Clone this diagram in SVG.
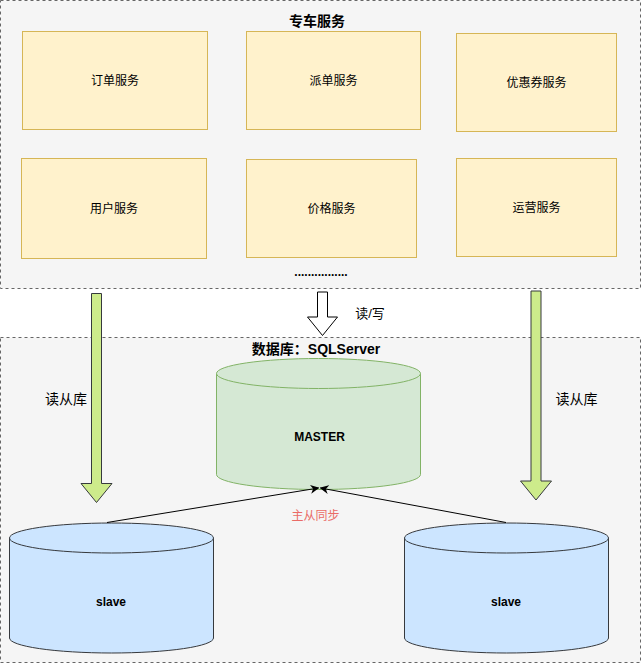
<svg xmlns="http://www.w3.org/2000/svg" width="641" height="664" viewBox="0 0 641 664">
<style>
.cont{fill:#f5f5f5;stroke:#666666;stroke-width:1;stroke-dasharray:3 3}
.svc{fill:#fff2cc;stroke:#d6b656;stroke-width:1}
.t{font-family:"Liberation Sans","Noto Sans CJK SC",sans-serif;font-size:12px;fill:#000;text-anchor:middle;dominant-baseline:central}
.b{font-weight:bold}
.big{font-size:14px}
.mid{font-size:13px}
.garrow{fill:#cdeb8b;stroke:#36393d;stroke-width:1}
.warrow{fill:#ffffff;stroke:#000000;stroke-width:1}
.master{fill:#d5e8d4;stroke:#82b366;stroke-width:1}
.slave{fill:#cce5ff;stroke:#36393d;stroke-width:1}
.conn{fill:none;stroke:#000;stroke-width:1}
</style>
<defs>
<marker id="ah" viewBox="0 0 10 10" refX="9" refY="5" markerWidth="9" markerHeight="9" markerUnits="userSpaceOnUse" orient="auto">
<path d="M0,0 L10,5 L0,10 L3,5 Z" fill="#000"/>
</marker>
</defs>
<rect width="641" height="664" fill="#ffffff"/>
<g id="container-top">
<rect class="cont" x="0.5" y="0.5" width="640" height="288"/>
<text class="t b big" x="317" y="21">专车服务</text>
<text class="t b" x="321" y="272">................</text>
</g>
<g id="container-db">
<rect class="cont" x="0.5" y="337.5" width="640" height="325"/>
<text class="t b big" x="316" y="349">数据库：SQLServer</text>
</g>
<g id="svc-order"><rect class="svc" x="22.5" y="31.5" width="185" height="98"/><text class="t" x="115" y="80.5">订单服务</text></g>
<g id="svc-dispatch"><rect class="svc" x="246.5" y="31.5" width="174" height="98"/><text class="t" x="333.5" y="80.5">派单服务</text></g>
<g id="svc-coupon"><rect class="svc" x="456.5" y="33.5" width="160" height="98"/><text class="t" x="536.5" y="82.5">优惠券服务</text></g>
<g id="svc-user"><rect class="svc" x="21.5" y="158.5" width="185" height="100"/><text class="t" x="114" y="208.5">用户服务</text></g>
<g id="svc-price"><rect class="svc" x="246.5" y="159.5" width="170" height="98"/><text class="t" x="331.5" y="208.5">价格服务</text></g>
<g id="svc-ops"><rect class="svc" x="456.5" y="158.5" width="160" height="98"/><text class="t" x="536.5" y="207.5">运营服务</text></g>
<g id="master">
<path class="master" d="M216.5,373.5 A102,15 0 0 1 420.5,373.5 L420.5,474.5 A102,15 0 0 1 216.5,474.5 Z"/>
<path class="master" d="M216.5,373.5 A102,15 0 0 0 420.5,373.5"/>
<text class="t b" x="319.5" y="436.5">MASTER</text>
</g>
<g id="slave-left">
<path class="slave" d="M9.5,538 A102,15 0 0 1 213.5,538 L213.5,638 A102,15 0 0 1 9.5,638 Z"/>
<path class="slave" d="M9.5,538 A102,15 0 0 0 213.5,538"/>
<text class="t b" x="111" y="602">slave</text>
</g>
<g id="slave-right">
<path class="slave" d="M404.5,538 A102,15 0 0 1 608.5,538 L608.5,638 A102,15 0 0 1 404.5,638 Z"/>
<path class="slave" d="M404.5,538 A102,15 0 0 0 608.5,538"/>
<text class="t b" x="506" y="602">slave</text>
</g>
<g id="connectors">
<polygon class="garrow" points="91.5,293.5 101.5,293.5 101.5,483.5 112,483.5 96.5,502.5 81,483.5 91.5,483.5"/>
<polygon class="garrow" points="531,291 541,291 541,481 551.5,481 536,500 520.5,481 531,481"/>
<polygon class="warrow" points="317.5,292 327.5,292 327.5,317 337.5,317 322.5,335.5 307.5,317 317.5,317"/>
<line class="conn" x1="107" y1="522.5" x2="318.5" y2="488" marker-end="url(#ah)"/>
<line class="conn" x1="506" y1="522.5" x2="320.5" y2="488" marker-end="url(#ah)"/>
<text class="t big" x="66" y="398.5">读从库</text>
<text class="t big" x="576.5" y="398.5">读从库</text>
<text class="t mid" x="370" y="313">读/写</text>
<text class="t" x="315.5" y="515.5" style="fill:#ea6b66">主从同步</text>
</g>
</svg>
